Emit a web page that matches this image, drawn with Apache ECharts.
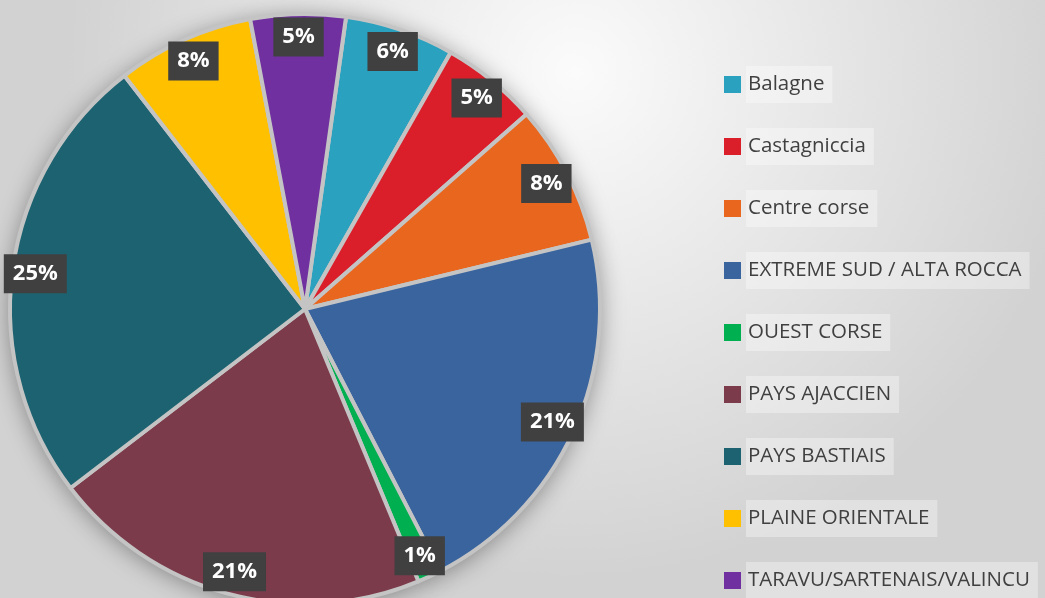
<!DOCTYPE html>
<html>
<head>
<meta charset="utf-8">
<script src="https://cdn.jsdelivr.net/npm/echarts@6/dist/echarts.min.js"></script>
<style>
  html, body { margin: 0; padding: 0; }
  #main { width: 1045px; height: 598px; }
</style>
</head>
<body>
<div id="main"></div>
<script>
// regions, in drawing order (clockwise from just right of 12 o'clock)
let regions = ['Balagne', 'Castagniccia', 'Centre corse', 'EXTREME SUD / ALTA ROCCA', 'OUEST CORSE',
  'PAYS AJACCIEN', 'PAYS BASTIAIS', 'PLAINE ORIENTALE', 'TARAVU/SARTENAIS/VALINCU']
// share of each region (%)
let shares = [6.0, 5.3, 7.7, 21.2, 1.3, 20.9, 24.9, 7.5, 5.2]
let colors = ['#2aa2bf', '#da1f2a', '#e8661d', '#3a649e', '#00b050', '#7b3b4b', '#1c6270', '#ffc000', '#7030a0']

let pieData = regions.map((name, i) => ({ name: name, value: shares[i] }))

let myChart = echarts.init(document.getElementById('main'))

let center = [305, 309]
let startAngle = 82

let option = {
  backgroundColor: {
    type: 'radial', x: 0.55, y: 0.12, r: 0.85,
    colorStops: [
      { offset: 0, color: '#fbfbfb' },
      { offset: 1, color: '#d2d2d2' }
    ]
  },
  color: colors,
  legend: {
    orient: 'vertical',
    left: 724,
    top: 66,
    width: 321,
    height: 600,
    padding: 0,
    icon: 'rect',
    itemWidth: 17,
    itemHeight: 17,
    itemGap: 25,
    selectedMode: false,
    itemStyle: { borderWidth: 0, shadowBlur: 0 },
    textStyle: {
      fontFamily: 'Open Sans',
      fontSize: 20.5,
      color: '#404040',
      lineHeight: 22,
      backgroundColor: 'rgba(255,255,255,0.35)',
      padding: [8, 8, 7, 2]
    },
    data: regions
  },
  series: [
    {
      // visible slices
      name: 'Régions',
      type: 'pie',
      center: center,
      radius: [0, 295],
      startAngle: startAngle,
      z: 3,
      data: pieData,
      label: { show: false },
      labelLine: { show: false },
      emphasis: { scale: false },
      itemStyle: { borderColor: '#c4c4c4', borderWidth: 4 }
    },
    {
      // soft shadow under the pie
      name: 'ombre',
      type: 'pie',
      center: center,
      radius: [0, 295],
      startAngle: startAngle,
      z: 1,
      silent: true,
      data: pieData,
      label: { show: false },
      labelLine: { show: false },
      itemStyle: {
        color: '#c4c4c4',
        shadowBlur: 24,
        shadowOffsetY: 3,
        shadowColor: 'rgba(0,0,0,0.4)'
      }
    },
    {
      // transparent ring only to place the labels near the rim
      name: 'etiquettes',
      type: 'pie',
      center: center,
      radius: [242, 296],
      startAngle: startAngle,
      z: 4,
      silent: true,
      data: pieData,
      itemStyle: { color: 'rgba(0,0,0,0)' },
      labelLine: { show: false },
      label: {
        show: true,
        position: 'inside',
        formatter: p => Math.round(p.percent) + '%',
        fontFamily: 'Open Sans',
        fontWeight: 'bold',
        fontSize: 22,
        lineHeight: 22,
        color: '#ffffff',
        backgroundColor: '#404040',
        padding: [9, 9, 8, 9]
      }
    }
  ]
}

myChart.setOption(option)
</script>
</body>
</html>
